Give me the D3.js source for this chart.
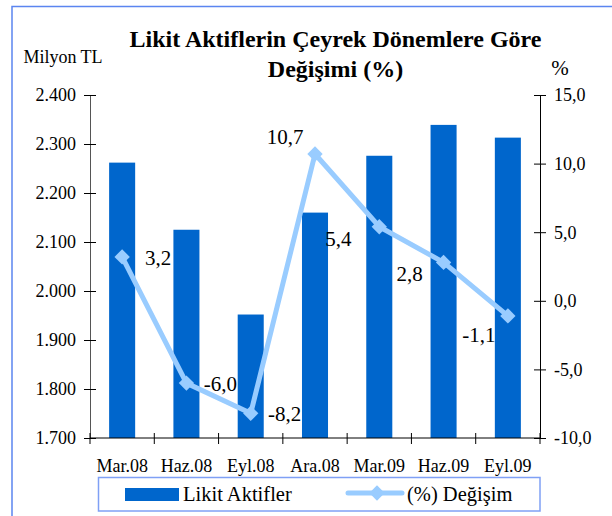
<!DOCTYPE html>
<html><head><meta charset="utf-8">
<script src="https://cdn.jsdelivr.net/npm/d3@7/dist/d3.min.js"></script>
<style>body{margin:0;background:#fff}svg{display:block}</style>
</head><body>
<script>
const categories = ["Mar.08","Haz.08","Eyl.08","Ara.08","Mar.09","Haz.09","Eyl.09"];
const likitAktifler = [2262, 2125, 1952, 2160, 2276, 2339, 2313];
const degisim = [3.2, -6.0, -8.2, 10.7, 5.4, 2.8, -1.1];
const leftTicks = [1700, 1800, 1900, 2000, 2100, 2200, 2300, 2400];
const rightTicks = [-10, -5, 0, 5, 10, 15];
const titleLines = ["Likit Aktiflerin Çeyrek Dönemlere Göre", "Değişimi (%)"];
const seriesNames = ["Likit Aktifler", "(%) Değişim"];

// label placement (layout, relative to point): [dx, dy]
const labelOffsets = [[36,1],[34,1],[34,1],[-30,-17],[-41,12],[-34,12],[-29,19]];

const FONT = '"Liberation Serif", "Times New Roman", serif';
const W = 612, H = 516;
const L = 90, R = 540, T = 95, B = 438;
const loc = d3.formatLocale({decimal: ",", thousands: ".", grouping: [3], currency: ["", ""], minus: "-"});
const fLeft = loc.format(",d"), fRight = loc.format(".1f");

const svg = d3.select("body").append("svg").attr("width", W).attr("height", H)
  .style("font-family", FONT);
svg.append("rect").attr("x", 12).attr("y", 6.5).attr("width", 640).attr("height", 560)
  .attr("fill", "none").attr("stroke", "#5b85f0").attr("stroke-width", 1.5);

const x = d3.scaleBand().domain(categories).range([L, R]).paddingInner(0.595).paddingOuter(0.2975);
const xCat = d3.scaleBand().domain(categories).range([L, R]).padding(0);
const yL = d3.scaleLinear().domain([1700, 2400]).range([B, T]);
const yR = d3.scaleLinear().domain([-10, 15]).range([B, T]);

// bars
svg.append("g").selectAll("rect").data(likitAktifler).join("rect")
  .attr("x", (d, i) => x(categories[i])).attr("width", x.bandwidth())
  .attr("y", d => yL(d)).attr("height", d => yL(1700) - yL(d)).attr("fill", "#0066cc");

// left axis
const gl = svg.append("g").attr("transform", `translate(${L},0)`)
  .call(d3.axisLeft(yL).tickValues(leftTicks).tickFormat(fLeft).tickSizeInner(6).tickSizeOuter(0).tickPadding(8));
gl.selectAll(".tick line").attr("x2", 6).attr("x1", -6);
gl.selectAll(".tick text").attr("x", -14).attr("dy", "0.33em");

// right axis
const gr = svg.append("g").attr("transform", `translate(${R},0)`)
  .call(d3.axisRight(yR).tickValues(rightTicks).tickFormat(fRight).tickSizeInner(6).tickSizeOuter(0));
gr.selectAll(".tick line").attr("x1", -6).attr("x2", 6);
gr.selectAll(".tick text").attr("x", 14).attr("dy", "0.33em");

// bottom axis
const gb = svg.append("g").attr("transform", `translate(0,${B})`)
  .call(d3.axisBottom(xCat).tickSize(0).tickPadding(0));
gb.select(".domain").attr("d", `M${L},0H${R}`);
gb.selectAll(".tick text").attr("y", 34).attr("dy", 0);
const bounds = d3.range(categories.length + 1).map(i => L + i * xCat.step());
svg.append("g").selectAll("line").data(bounds).join("line")
  .attr("x1", d => d).attr("x2", d => d).attr("y1", B - 5).attr("y2", B + 6)
  .attr("stroke", "#000");
[gl, gr, gb].forEach(g => g.attr("font-family", FONT).attr("font-size", 18));
svg.selectAll(".domain").attr("stroke", "#000");
gl.select(".domain").attr("stroke", "#555");

// line
const cx = i => x(categories[i]) + x.bandwidth() / 2;
const line = d3.line().x((d, i) => cx(i)).y(d => yR(d));
svg.append("path").datum(degisim).attr("d", line).attr("fill", "none")
  .attr("stroke", "#99ccff").attr("stroke-width", 5).attr("stroke-linejoin", "round");
const diamond = d3.symbol().type(d3.symbolDiamond2).size(150);
svg.append("g").selectAll("path").data(degisim).join("path")
  .attr("d", diamond).attr("transform", (d, i) => `translate(${cx(i)},${yR(d)})`)
  .attr("fill", "#99ccff");
svg.append("g").selectAll("text").data(degisim).join("text")
  .attr("x", (d, i) => cx(i) + labelOffsets[i][0])
  .attr("y", (d, i) => yR(d) + labelOffsets[i][1] + 7)
  .attr("text-anchor", "middle").attr("font-size", 21).attr("font-family", FONT)
  .text(d => fRight(d));

// titles
svg.append("text").attr("x", 335.5).attr("y", 47).attr("text-anchor", "middle").attr("font-family", FONT)
  .attr("font-weight", "bold").attr("font-size", 24).text(titleLines[0]);
svg.append("text").attr("x", 335.5).attr("y", 77).attr("text-anchor", "middle").attr("font-family", FONT)
  .attr("font-weight", "bold").attr("font-size", 24).text(titleLines[1]);
svg.append("text").attr("x", 63).attr("y", 63).attr("text-anchor", "middle").attr("font-family", FONT)
  .attr("font-size", 18).text("Milyon TL");
svg.append("text").attr("x", 560).attr("y", 75).attr("text-anchor", "middle").attr("font-family", FONT)
  .attr("font-size", 21).text("%");

// legend
svg.append("rect").attr("x", 98.5).attr("y", 477.5).attr("width", 441.5).attr("height", 33.5)
  .attr("fill", "#fff").attr("stroke", "#7fa0f5").attr("stroke-width", 1.5);
svg.append("rect").attr("x", 125).attr("y", 488).attr("width", 54).attr("height", 13).attr("fill", "#0066cc");
svg.append("text").attr("x", 183).attr("y", 501).attr("font-family", FONT).attr("font-size", 20.5).text(seriesNames[0]);
svg.append("line").attr("x1", 348).attr("x2", 402).attr("y1", 493).attr("y2", 493)
  .attr("stroke", "#99ccff").attr("stroke-width", 5).attr("stroke-linecap", "round");
svg.append("path").attr("d", diamond).attr("transform", "translate(377,493)").attr("fill", "#99ccff");
svg.append("text").attr("x", 407).attr("y", 501).attr("font-family", FONT).attr("font-size", 20.5).text(seriesNames[1]);
</script>
</body></html>
